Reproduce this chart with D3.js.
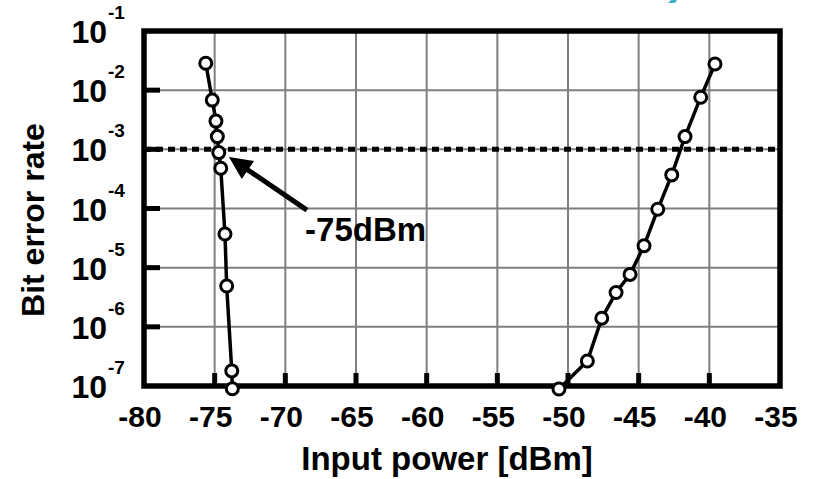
<!DOCTYPE html>
<html lang="en">
  <head>
    <meta charset="UTF-8" />
    <title>Bit error rate vs input power</title>
    <script src="https://d3js.org/d3.v7.min.js"></script>
    <style>
      body {
        margin: 0;
        background: #fff;
      }
      text {
        font-family: 'Liberation Sans', Arial, sans-serif;
        font-weight: bold;
        fill: #000;
      }
    </style>
  </head>
  <body>
    <div id="chart"></div>
    <script>
      // data
      const lowPower = [-75.63, -75.17, -74.91, -74.81, -74.71, -74.57, -74.27, -74.15, -73.79, -73.75];
      const lowBer = [2.85e-2, 6.8e-3, 3.0e-3, 1.64e-3, 8.8e-4, 4.8e-4, 3.7e-5, 4.9e-6, 1.8e-7, 0.9e-7];
      const highPower = [-39.6, -40.61, -41.72, -42.66, -43.65, -44.62, -45.61, -46.6, -47.61, -48.63, -50.64];
      const highBer = [2.77e-2, 7.6e-3, 1.64e-3, 3.7e-4, 9.7e-5, 2.35e-5, 7.7e-6, 3.8e-6, 1.4e-6, 2.65e-7, 0.89e-7];
      const xTicks = [-80, -75, -70, -65, -60, -55, -50, -45, -40, -35];
      const yExponents = [-1, -2, -3, -4, -5, -6, -7];
      const threshold = 1e-3;
      const annotation = { label: '-75dBm', tip: [-73.99, 7.4e-4], tail: [-68.47, 9.4e-5], text: [-68.6, 2.8e-5] };

      const width = 815;
      const height = 479;

      const svg = d3
        .select('#chart')
        .append('svg')
        .attr('width', width)
        .attr('height', height);

      const x = d3.scaleLinear().domain([-80, -35]).range([144, 780]);
      const y = d3.scaleLog().domain([1e-1, 1e-7]).range([31, 386]);

      // small cyan fragment at the top edge
      svg
        .append('polygon')
        .attr('points', '668,3 671,0 677,0 675,3')
        .attr('fill', '#3fb1c9');

      // grid
      svg
        .append('g')
        .selectAll('line')
        .data(xTicks.slice(1, -1))
        .join('line')
        .attr('x1', (d) => x(d))
        .attr('x2', (d) => x(d))
        .attr('y1', y(1e-1))
        .attr('y2', y(1e-7))
        .attr('stroke', '#7f7f7f')
        .attr('stroke-width', 2);

      svg
        .append('g')
        .selectAll('line')
        .data(yExponents.slice(1, -1))
        .join('line')
        .attr('x1', x(-80))
        .attr('x2', x(-35))
        .attr('y1', (d) => y(Math.pow(10, d)))
        .attr('y2', (d) => y(Math.pow(10, d)))
        .attr('stroke', '#7f7f7f')
        .attr('stroke-width', 2);

      // threshold
      svg
        .append('line')
        .attr('x1', x(-80))
        .attr('x2', x(-35))
        .attr('y1', y(threshold))
        .attr('y2', y(threshold))
        .attr('stroke', '#000')
        .attr('stroke-width', 5)
        .attr('stroke-dasharray', '7,5');

      // inner ticks
      svg
        .append('g')
        .selectAll('line')
        .data(yExponents.slice(1, -1))
        .join('line')
        .attr('x1', x(-80))
        .attr('x2', x(-80) + 16)
        .attr('y1', (d) => y(Math.pow(10, d)))
        .attr('y2', (d) => y(Math.pow(10, d)))
        .attr('stroke', '#000')
        .attr('stroke-width', 5);

      svg
        .append('g')
        .selectAll('line')
        .data(xTicks.slice(1, -1))
        .join('line')
        .attr('x1', (d) => x(d))
        .attr('x2', (d) => x(d))
        .attr('y1', y(1e-7))
        .attr('y2', y(1e-7) - 13)
        .attr('stroke', '#000')
        .attr('stroke-width', 5);

      // frame
      svg
        .append('rect')
        .attr('x', x(-80))
        .attr('y', y(1e-1))
        .attr('width', x(-35) - x(-80))
        .attr('height', y(1e-7) - y(1e-1))
        .attr('fill', 'none')
        .attr('stroke', '#000')
        .attr('stroke-width', 5.5);

      // series
      const line = d3
        .line()
        .x((d) => x(d[0]))
        .y((d) => y(d[1]));

      const series = [d3.zip(lowPower, lowBer), d3.zip(highPower, highBer)];

      series.forEach((pts) => {
        svg
          .append('path')
          .datum(pts)
          .attr('d', line)
          .attr('fill', 'none')
          .attr('stroke', '#000')
          .attr('stroke-width', 3.5);

        svg
          .append('g')
          .selectAll('circle')
          .data(pts)
          .join('circle')
          .attr('cx', (d) => x(d[0]))
          .attr('cy', (d) => y(d[1]))
          .attr('r', 6)
          .attr('fill', '#fff')
          .attr('stroke', '#000')
          .attr('stroke-width', 3);
      });

      // annotation arrow
      const tip = [x(annotation.tip[0]), y(annotation.tip[1])];
      const tail = [x(annotation.tail[0]), y(annotation.tail[1])];
      const dx = tip[0] - tail[0];
      const dy = tip[1] - tail[1];
      const len = Math.sqrt(dx * dx + dy * dy);
      const ux = dx / len;
      const uy = dy / len;
      const headLen = 23;
      const headHalf = 11;
      const base = [tip[0] - headLen * ux, tip[1] - headLen * uy];

      svg
        .append('line')
        .attr('x1', tail[0])
        .attr('y1', tail[1])
        .attr('x2', base[0] + 3 * ux)
        .attr('y2', base[1] + 3 * uy)
        .attr('stroke', '#000')
        .attr('stroke-width', 5);

      svg
        .append('polygon')
        .attr(
          'points',
          [
            tip,
            [base[0] - headHalf * uy, base[1] + headHalf * ux],
            [base[0] + headHalf * uy, base[1] - headHalf * ux],
          ].join(' ')
        )
        .attr('fill', '#000');

      svg
        .append('text')
        .attr('x', x(annotation.text[0]))
        .attr('y', y(annotation.text[1]))
        .style('font-size', '33px')
        .text(annotation.label);

      // x tick labels
      svg
        .append('g')
        .selectAll('text')
        .data(xTicks)
        .join('text')
        .attr('x', (d) => x(d) - 4)
        .attr('y', 427)
        .attr('text-anchor', 'middle')
        .style('font-size', '30px')
        .text((d) => d);

      // y tick labels: 10 with superscript exponent
      const yLabels = svg.append('g').selectAll('g').data(yExponents).join('g');

      yLabels
        .append('text')
        .attr('x', 107)
        .attr('y', (d) => y(Math.pow(10, d)) + 12)
        .attr('text-anchor', 'end')
        .style('font-size', '32px')
        .text('10');

      yLabels
        .append('text')
        .attr('x', 108)
        .attr('y', (d) => y(Math.pow(10, d)) - 12)
        .style('font-size', '19px')
        .text((d) => d);

      // axis titles
      svg
        .append('text')
        .attr('x', 447)
        .attr('y', 470)
        .attr('text-anchor', 'middle')
        .style('font-size', '33px')
        .text('Input power [dBm]');

      svg
        .append('text')
        .attr('transform', 'translate(44,220) rotate(-90)')
        .attr('text-anchor', 'middle')
        .style('font-size', '32px')
        .text('Bit error rate');
    </script>
  </body>
</html>
